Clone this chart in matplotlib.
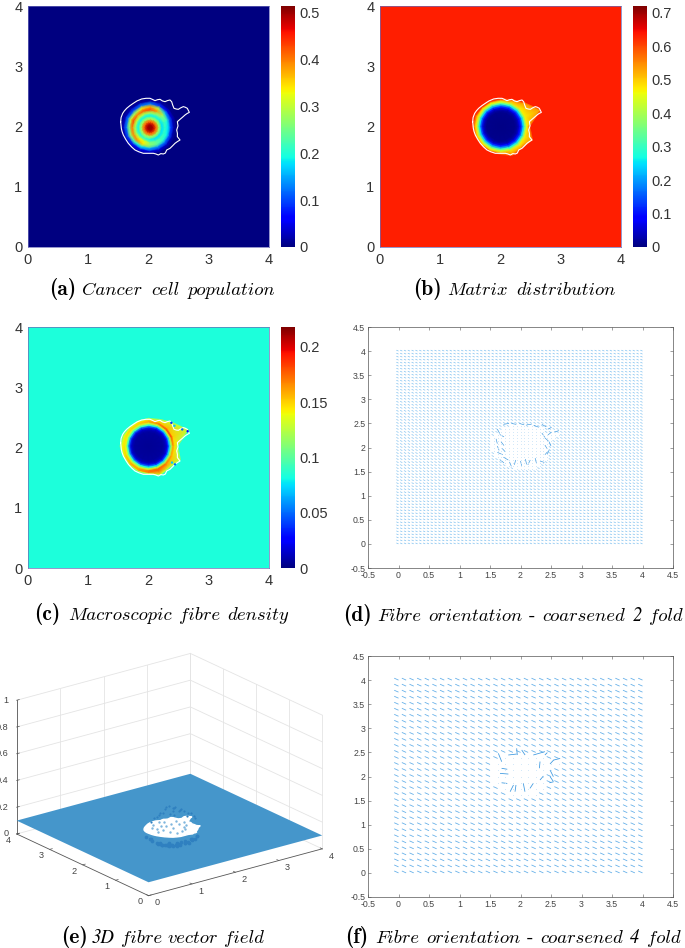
import numpy as np
import matplotlib
matplotlib.use('Agg')
import matplotlib.pyplot as plt
from matplotlib.path import Path
from mpl_toolkits.mplot3d.art3d import Poly3DCollection

W, H = 685, 948

# white tumour outline
contour_x = [1.538, 1.545, 1.571, 1.600, 1.638, 1.690, 1.748, 1.810, 1.887, 1.960, 2.025, 2.065, 2.108, 2.150, 2.191, 2.230,
             2.274, 2.315, 2.357, 2.385, 2.401, 2.423, 2.460, 2.495, 2.535, 2.578, 2.610, 2.644, 2.678, 2.640, 2.606,
             2.560, 2.523, 2.479, 2.490, 2.468, 2.480, 2.479, 2.523, 2.480, 2.440, 2.400, 2.357, 2.302, 2.280, 2.246,
             2.205, 2.163, 2.120, 2.080, 2.000, 1.914, 1.840, 1.776, 1.720, 1.665, 1.620, 1.582, 1.560, 1.549, 1.538]
contour_y = [2.080, 2.150, 2.218, 2.260, 2.302, 2.345, 2.385, 2.425, 2.457, 2.468, 2.468, 2.450, 2.429, 2.445, 2.451, 2.425,
             2.412, 2.430, 2.440, 2.410, 2.357, 2.302, 2.290, 2.285, 2.310, 2.330, 2.320, 2.302, 2.235, 2.215, 2.191,
             2.150, 2.119, 2.080, 2.010, 1.942, 1.885, 1.832, 1.776, 1.750, 1.721, 1.680, 1.638, 1.610, 1.560, 1.544,
             1.550, 1.527, 1.545, 1.555, 1.555, 1.555, 1.580, 1.610, 1.660, 1.721, 1.790, 1.859, 1.920, 1.970, 2.080]

angles_deg = [0, 22.5, 45, 67.5, 90, 112.5, 135, 157.5, 180, 202.5, 225, 247.5, 270, 292.5, 315, 337.5]

# cancer cells, one row per angle
cell_radii = [0, .05, .1, .15, .2, .25, .3, .35, .4, .45, .5]
cell_values = [
    [.51, .49, .41, .28, .18, .21, .18, .09, .02, 0, 0],
    [.51, .49, .41, .28, .18, .22, .20, .11, .03, 0, 0],
    [.51, .49, .41, .28, .19, .25, .28, .16, .05, .01, 0],
    [.51, .49, .41, .28, .19, .27, .38, .30, .09, .02, 0],
    [.51, .49, .41, .28, .19, .28, .43, .38, .13, .02, 0],
    [.51, .49, .41, .28, .19, .29, .42, .34, .12, .02, 0],
    [.51, .49, .41, .28, .19, .30, .39, .27, .10, .02, 0],
    [.51, .49, .41, .28, .19, .30, .43, .32, .13, .03, 0],
    [.51, .49, .41, .28, .19, .28, .40, .25, .12, .03, 0],
    [.51, .49, .41, .28, .19, .28, .39, .27, .10, .02, 0],
    [.51, .49, .41, .28, .20, .32, .39, .21, .07, .01, 0],
    [.51, .49, .41, .28, .21, .33, .34, .18, .05, .01, 0],
    [.51, .49, .41, .28, .19, .26, .27, .15, .04, 0, 0],
    [.51, .49, .41, .28, .18, .24, .24, .13, .04, 0, 0],
    [.51, .49, .41, .28, .18, .22, .21, .12, .03, 0, 0],
    [.51, .49, .41, .28, .18, .21, .19, .10, .02, 0, 0],
]

# matrix and fibres share radii, last column sits on the outline
inner_radii = [0, .24, .29, .32, .35, .38, .41, .44]
outline_radii = [.48, .71, .555, .48, .46, .45, .445, .46, .47, .45, .445, .45, .46, .51, .495, .57]
matrix_values = [
    [.005, .01, .03, .07, .13, .24, .36, .47, .57],
    [.005, .01, .03, .07, .13, .24, .36, .47, .54],
    [.005, .01, .03, .07, .14, .25, .37, .47, .55],
    [.005, .01, .03, .08, .16, .28, .40, .50, .58],
    [.005, .01, .04, .10, .19, .32, .44, .53, .60],
    [.005, .01, .04, .11, .21, .34, .46, .54, .60],
    [.005, .01, .05, .12, .23, .36, .47, .55, .60],
    [.005, .01, .05, .13, .24, .37, .48, .55, .61],
    [.005, .01, .05, .13, .25, .38, .48, .56, .61],
    [.005, .01, .05, .13, .24, .37, .48, .55, .61],
    [.005, .01, .05, .12, .23, .36, .47, .54, .60],
    [.005, .01, .04, .11, .21, .34, .45, .53, .60],
    [.005, .01, .04, .10, .19, .32, .44, .52, .59],
    [.005, .01, .03, .08, .16, .28, .40, .49, .55],
    [.005, .01, .03, .07, .14, .25, .37, .47, .54],
    [.005, .01, .03, .07, .13, .24, .36, .47, .55],
]
fibre_values = [
    [.004, .006, .012, .03, .07, .12, .16, .145, .12],
    [.004, .006, .012, .03, .07, .13, .18, .15, .125],
    [.004, .006, .012, .03, .07, .13, .18, .155, .13],
    [.004, .006, .012, .03, .075, .13, .17, .15, .13],
    [.004, .006, .015, .04, .085, .13, .16, .15, .13],
    [.004, .006, .015, .04, .09, .13, .15, .145, .125],
    [.004, .006, .015, .045, .09, .13, .15, .14, .12],
    [.004, .006, .015, .045, .09, .135, .145, .135, .115],
    [.004, .006, .015, .045, .09, .135, .145, .14, .115],
    [.004, .006, .015, .045, .09, .135, .15, .14, .115],
    [.004, .006, .015, .045, .09, .13, .16, .15, .12],
    [.004, .006, .015, .04, .085, .13, .16, .16, .13],
    [.004, .006, .015, .04, .08, .13, .17, .17, .13],
    [.004, .006, .012, .035, .075, .13, .175, .175, .135],
    [.004, .006, .012, .03, .07, .12, .17, .16, .13],
    [.004, .006, .012, .03, .07, .12, .16, .15, .125],
]
matrix_bg = 0.63
fibre_bg = 0.084

# blue flecks in the fibre lobes
fleck_x = [2.38, 2.43, 2.56, 2.65, 2.44, 2.39]
fleck_y = [2.41, 2.36, 2.30, 2.27, 1.72, 1.75]
fleck_c = [.04, .07, .05, .03, .05, .07]

# disturbed orientation vectors, x, y, u, v
arrows_2fold = [
    (1.72, 2.48, .09, .02), (1.85, 2.50, .08, -.02), (1.98, 2.50, .08, -.03), (2.10, 2.47, .08, .01),
    (2.22, 2.46, .08, -.04), (2.35, 2.48, .07, -.05), (2.45, 2.38, .06, .04), (2.55, 2.32, .08, .03),
    (2.45, 2.26, .06, .06), (2.35, 2.30, .05, -.09), (1.62, 2.38, .04, -.09), (1.66, 2.27, .07, -.05),
    (1.60, 2.18, .02, -.10), (1.68, 2.12, .05, -.08), (1.62, 2.03, .03, -.09), (1.70, 1.98, .05, -.07),
    (1.62, 1.90, .09, -.05), (1.72, 1.80, .08, -.06), (1.66, 1.75, .07, -.07), (1.82, 1.70, .03, -.09),
    (1.92, 1.74, -.02, -.10), (2.00, 1.72, .02, -.10), (2.08, 1.76, .02, -.11), (2.16, 1.74, -.04, -.10),
    (2.24, 1.78, .02, -.10), (2.32, 1.72, .07, -.03), (2.40, 1.85, .05, .07), (2.47, 1.95, -.03, -.09),
    (2.40, 2.05, .04, -.08), (2.47, 2.12, .03, -.09), (2.40, 2.20, .06, -.07),
]
arrows_4fold = [
    (1.637, 2.48, .055, -.173), (1.80, 2.446, .137, .02), (1.937, 2.584, .01, -.138), (2.02, 2.55, .055, -.104),
    (2.21, 2.446, .19, .07), (2.32, 2.31, -.01, -.138), (2.484, 2.26, .06, .083), (2.54, 2.34, .11, .035),
    (2.40, 2.446, .04, .05), (1.69, 2.17, .093, -.02), (1.664, 2.065, .137, -.014), (2.484, 2.135, .055, -.138),
    (2.484, 2.0, .055, -.104), (1.69, 1.87, .093, -.014), (1.83, 1.685, .055, .138), (1.926, 1.823, -.016, -.138),
    (2.046, 1.858, .027, -.173), (2.21, 1.858, -.055, -.104), (2.347, 1.72, .11, 0), (2.54, 1.89, -.066, -.02),
    (2.32, 1.927, .055, .083),
]

# points of the 3D field that leave the plane
dome_pts = [
    (2.30, 2.30, .19), (2.40, 2.20, .18), (2.20, 2.40, .18), (2.35, 2.35, .16), (2.45, 2.30, .15), (2.15, 2.30, .21),
    (2.25, 2.15, .22), (2.10, 2.45, .14), (2.50, 2.10, .16), (2.05, 2.35, .17), (2.35, 2.10, .20), (2.55, 2.20, .12),
    (2.20, 2.25, .16), (1.95, 2.40, .13), (2.45, 1.95, .18), (2.30, 1.95, .21), (2.10, 2.15, .24), (1.90, 2.25, .16),
    (2.55, 1.95, .13), (1.85, 2.35, .12), (2.15, 2.05, .23), (2.40, 2.40, .12), (2.60, 2.05, .13), (2.00, 2.20, .19),
]
bowl_pts = [
    (1.55, 1.95, .05), (1.60, 1.85, .04), (1.62, 1.78, .04), (1.68, 1.72, .03), (1.72, 1.66, .03), (1.80, 1.62, .03),
    (1.85, 1.58, .03), (1.92, 1.56, .03), (2.00, 1.53, .04), (2.08, 1.52, .04), (2.15, 1.52, .05), (2.25, 1.55, .05),
    (2.32, 1.58, .06), (1.65, 1.90, .02), (1.70, 1.82, .02), (1.75, 1.76, .02), (1.82, 1.72, .02), (1.90, 1.68, .02),
    (1.98, 1.65, .02), (2.06, 1.62, .03), (2.14, 1.62, .03), (2.22, 1.65, .04), (1.75, 1.90, .01), (1.82, 1.84, .01),
    (1.90, 1.78, .01), (1.98, 1.75, .01), (2.06, 1.72, .02), (1.60, 2.02, .05), (1.50, 2.05, .07), (1.48, 1.92, .07),
    (1.58, 1.72, .06), (1.68, 1.60, .06), (1.80, 1.52, .06), (1.95, 1.47, .07), (2.10, 1.46, .07), (2.25, 1.48, .08),
]
speck_pts = [
    (1.80, 2.10), (1.95, 2.20), (2.10, 2.30), (2.25, 2.05), (2.05, 1.95), (1.90, 1.85), (2.20, 1.80), (2.35, 1.95),
    (1.70, 1.95), (1.85, 2.00), (2.00, 2.10), (2.15, 2.15), (2.30, 2.20), (2.10, 1.75), (1.95, 1.70), (2.25, 1.90),
    (1.75, 2.20), (2.40, 2.10), (2.05, 2.38), (1.85, 2.30),
]

axis_ticks = [0, 1, 2, 3, 4]
quiver_ticks = [-.5, 0, .5, 1, 1.5, 2, 2.5, 3, 3.5, 4, 4.5]
quiver_labels = ['-0.5', '0', '0.5', '1', '1.5', '2', '2.5', '3', '3.5', '4', '4.5']
z_ticks = [0, .2, .4, .6, .8, 1]
z_labels = ['0', '0.2', '0.4', '0.6', '0.8', '1']

plt.rcParams['font.family'] = ['Liberation Sans', 'DejaVu Sans']

fig = plt.figure(figsize=(W / 100, H / 100), dpi=100)


def px_axes(left, top, right, bottom, **kw):
    return fig.add_axes([left / W, 1 - bottom / H, (right - left) / W, (bottom - top) / H], **kw)


def polar_mesh(ax, cx, cy, radii, values, vmax):
    th = np.radians(angles_deg + [360])[:, None]
    radii = np.asarray(radii)
    x = cx + radii * np.cos(th)
    y = cy + radii * np.sin(th)
    return ax.pcolormesh(x, y, np.asarray(values), cmap='jet', vmin=0, vmax=vmax, shading='gouraud')


def close_rows(rows):
    rows = np.asarray(rows, dtype=float)
    return np.vstack([rows, rows[:1]])


def heat_panel(left, top, cbar_left, radii, values, cx, cy, bg, vmax, cticks, clabels):
    ax = px_axes(left, top, left + 241, top + 241)
    ax.set_facecolor(plt.get_cmap('jet')(bg / vmax))
    m = polar_mesh(ax, cx, cy, radii, values, vmax)
    ax.plot(contour_x, contour_y, color='white', lw=0.8)
    ax.set_xlim(0, 4)
    ax.set_ylim(0, 4)
    ax.set_xticks(axis_ticks)
    ax.set_yticks(axis_ticks)
    ax.tick_params(direction='in', length=0, labelsize=10.5, labelcolor='#333333', pad=4)
    for s in ax.spines.values():
        s.set_color('#6a6ab8')
        s.set_linewidth(0.5)
    cax = px_axes(cbar_left, top, cbar_left + 14, top + 241)
    cb = fig.colorbar(m, cax=cax)
    cb.set_ticks(cticks, labels=clabels)
    cb.ax.tick_params(direction='in', length=0, labelsize=10.5, labelcolor='#333333', pad=3)
    cb.outline.set_visible(False)
    return ax


# (a)
heat_panel(28, 6, 281, np.tile(cell_radii, (17, 1)), close_rows(cell_values), 2.025, 1.98, 0, .514,
           [0, .1, .2, .3, .4, .5], ['0', '0.1', '0.2', '0.3', '0.4', '0.5'])

# outline-following radii for (b) and (c), the extra column drops back to background
outline = np.array(outline_radii + outline_radii[:1])
rows_bc = np.column_stack([np.tile(inner_radii, (17, 1)), outline, outline + .012])


def with_bg(values, bg):
    rows = close_rows(values)
    return np.column_stack([rows, np.full(len(rows), bg)])


# (b)
heat_panel(380, 6, 633, rows_bc, with_bg(matrix_values, matrix_bg), 2.0, 2.0, matrix_bg, .72,
           [0, .1, .2, .3, .4, .5, .6, .7], ['0', '0.1', '0.2', '0.3', '0.4', '0.5', '0.6', '0.7'])

# (c)
ax_c = heat_panel(28, 327, 281, rows_bc, with_bg(fibre_values, fibre_bg), 2.0, 2.02, fibre_bg, .218,
                  [0, .05, .1, .15, .2], ['0', '0.05', '0.1', '0.15', '0.2'])
ax_c.scatter(fleck_x, fleck_y, c=fleck_c, cmap='jet', vmin=0, vmax=.218, s=3, linewidths=0, zorder=3)


def quiver_panel(top, n, u0, v0, arrows, lw, field_color):
    ax = px_axes(368, top, 673, top + 241)
    grid = np.linspace(0, 4, n)
    gx, gy = np.meshgrid(grid, grid)
    pts = np.column_stack([gx.ravel(), gy.ravel()])
    inside = Path(np.column_stack([contour_x, contour_y])).contains_points(pts)
    style = dict(angles='xy', scale_units='xy', scale=1, units='dots', width=lw,
                 headwidth=1, headlength=0, headaxislength=0)
    out = pts[~inside]
    ax.quiver(out[:, 0], out[:, 1], np.full(len(out), u0), np.full(len(out), v0), pivot='tip',
              color=field_color, **style)
    ax.plot(pts[inside, 0], pts[inside, 1], ls='none', marker='s', ms=0.6, mew=0, color='#cfe6f8')
    a = np.array(arrows)
    ax.quiver(a[:, 0], a[:, 1], a[:, 2], a[:, 3], color='#3f9ae0', **style)
    ax.set_xlim(-.5, 4.5)
    ax.set_ylim(-.5, 4.5)
    ax.set_xticks(quiver_ticks, labels=quiver_labels)
    ax.set_yticks(quiver_ticks, labels=quiver_labels)
    ax.tick_params(direction='in', top=True, right=True, length=2.5, width=.4, color='#555555',
                   labelsize=6.3, labelcolor='#444444', pad=2)
    for s in ax.spines.values():
        s.set_color('#555555')
        s.set_linewidth(0.5)
    return ax


# (d) and (f)
quiver_panel(327, 65, .035, -.02, arrows_2fold, 0.65, '#79bdee')
quiver_panel(656, 33, .07, -.04, arrows_4fold, 0.8, '#62aee8')

# (e)
ax3 = px_axes(0, 614, 330, 944, projection='3d', proj_type='ortho', computed_zorder=False)
ax3.view_init(elev=20.8, azim=-127.2)
ax3.set_box_aspect((1, 1, .656))
ax3.set_axis_off()
ax3.patch.set_alpha(0)

grid_c = '#e4e4e4'
for t in axis_ticks:
    ax3.plot([t, t], [4, 4], [0, 1], color=grid_c, lw=.6, zorder=1)
    ax3.plot([4, 4], [t, t], [0, 1], color=grid_c, lw=.6, zorder=1)
for z in z_ticks:
    ax3.plot([0, 4], [4, 4], [z, z], color=grid_c, lw=.6, zorder=1)
    ax3.plot([4, 4], [0, 4], [z, z], color=grid_c, lw=.6, zorder=1)
ax3.plot([0, 0], [4, 4], [0, 1], color='#555555', lw=.6, zorder=2)
ax3.plot([0, 4], [0, 0], [0, 0], color='#555555', lw=.6, zorder=2)
ax3.plot([0, 0], [0, 4], [0, 0], color='#555555', lw=.6, zorder=2)
for t, lab in zip(axis_ticks, ['0', '1', '2', '3', '4']):
    ax3.plot([t, t], [0, .06], [0, 0], color='#555555', lw=.5, zorder=2)
    ax3.plot([0, .06], [t, t], [0, 0], color='#555555', lw=.5, zorder=2)
    ax3.text(t - .1, -.40, 0, lab, fontsize=6.6, color='#444444', ha='center', va='center')
    ax3.text(-.325, t - .165, 0, lab, fontsize=6.6, color='#444444', ha='center', va='center')
for z, lab in zip(z_ticks, z_labels):
    ax3.plot([0, .06], [4, 4], [z, z], color='#555555', lw=.5, zorder=2)
    ax3.text(-.122, 4.092, z, lab, fontsize=6.6, color='#444444', ha='right', va='center')

sx, sy = np.meshgrid(np.array([0., 4.]), np.array([0., 4.]))
ax3.plot_surface(sx, sy, np.full_like(sx, .1), color='#4596cb', shade=False, linewidth=0, zorder=3)
d = np.array(bowl_pts)
ax3.scatter(d[:, 0], d[:, 1], d[:, 2], s=7, color='#2f80c0', linewidths=0, depthshade=False, zorder=4)
hole = [list(zip(contour_x, contour_y, [.1] * len(contour_x)))]
ax3.add_collection3d(Poly3DCollection(hole, facecolor='white', edgecolor='white', zorder=5), autolim=False)
s = np.array(speck_pts)
ax3.scatter(s[:, 0], s[:, 1], np.full(len(s), .1), s=3, color='#7fb6de', linewidths=0, depthshade=False, zorder=6)
d = np.array(dome_pts)
ax3.scatter(d[:, 0], d[:, 1], d[:, 2], s=2.5, color='#2f80c0', linewidths=0, depthshade=False, zorder=6)
ax3.set_xlim(0, 4)
ax3.set_ylim(0, 4)
ax3.set_zlim(0, 1)

renderer = fig.canvas.get_renderer()


# captions: bold letter, then the description set word by word
def caption(x_bold, x_text, y, letter, words, gap=9):
    fig.text(x_bold / W, 1 - y / H, letter, family='cmb10', fontsize=15.5, color='black', va='baseline')
    x = x_text
    for word in words:
        if word == '-':
            kw = dict(family='cmr10')
        elif word[0].isdigit():
            kw = dict(family='STIXGeneral', style='italic')
        else:
            kw = dict(family='cmmi10')
        t = fig.text(x / W, 1 - y / H, word, fontsize=13.5, color='black', va='baseline', **kw)
        x = t.get_window_extent(renderer).x1 + gap


caption(49, 82, 295, '(a)', ['Cancer', 'cell', 'population'])
caption(413, 447, 295, '(b)', ['Matrix', 'distribution'])
caption(34, 68, 620, '(c)', ['Macroscopic', 'fibre', 'density'], gap=7)
caption(343, 377, 621, '(d)', ['Fibre', 'orientation', '-', 'coarsened', '2', 'fold'], gap=7)
caption(61, 92, 943, '(e)', ['3D', 'fibre', 'vector', 'field'], gap=6)
caption(345, 375, 943, '(f)', ['Fibre', 'orientation', '-', 'coarsened', '4', 'fold'], gap=7)

fig.savefig('out.png', dpi=100, facecolor='white')
